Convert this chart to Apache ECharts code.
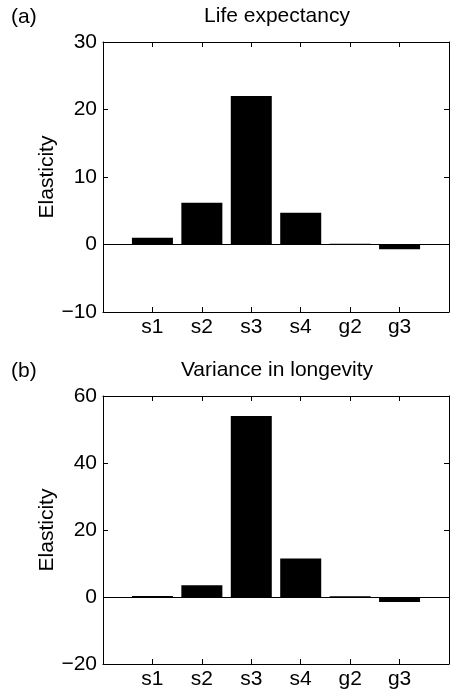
<!DOCTYPE html>
<html>
<head>
<meta charset="utf-8">
<script src="https://cdn.jsdelivr.net/npm/echarts@6/dist/echarts.min.js"></script>
<style>
  html, body { margin: 0; padding: 0; background: #fff; }
  #chart { width: 452px; height: 690px; }
</style>
</head>
<body>
<div id="chart"></div>
<script>
// 数据
var categories = ['s1', 's2', 's3', 's4', 'g2', 'g3'];
var lifeExpectancy = [1.0, 6.2, 22.0, 4.7, 0.1, -0.7];
var varianceLongevity = [0.3, 3.5, 54.0, 11.5, 0.2, -1.5];
var ticksA = { min: -10, max: 30, interval: 10 };
var ticksB = { min: -20, max: 60, interval: 20 };

var FONT = 'Liberation Sans, Arial, sans-serif';
var FS = 21;

// 两端留空的类目，使 s1..g3 落在 1..6
var xData = [''].concat(categories, ['']);
function pad(arr) { return [null].concat(arr, [null]); }

function minusFmt(v) {
    return v < 0 ? '\u2212' + Math.abs(v) : String(v);
}

var axisLine = { show: true, onZero: false, lineStyle: { color: '#000', width: 1 } };
var tickIn = { show: true, inside: true, length: 5, lineStyle: { color: '#000', width: 1 } };

function xAxes(gi) {
    return [
        {
            gridIndex: gi, type: 'category', data: xData, boundaryGap: false, position: 'bottom',
            axisLine: axisLine, axisTick: tickIn,
            axisLabel: { color: '#000', fontSize: FS, fontFamily: FONT, margin: 5, interval: 0 },
            splitLine: { show: false }
        },
        {
            gridIndex: gi, type: 'category', data: xData, boundaryGap: false, position: 'top',
            axisLine: axisLine, axisTick: tickIn, axisLabel: { show: false },
            splitLine: { show: false }
        }
    ];
}

function yAxes(gi, t) {
    return [
        {
            gridIndex: gi, type: 'value', min: t.min, max: t.max, interval: t.interval, position: 'left',
            name: 'Elasticity', nameLocation: 'middle', nameRotate: 90, nameGap: 45,
            nameMoveOverlap: false,
            nameTextStyle: { color: '#000', fontSize: FS, fontFamily: FONT },
            axisLine: axisLine, axisTick: tickIn,
            axisLabel: { color: '#000', fontSize: FS, fontFamily: FONT, margin: 6, formatter: minusFmt },
            splitLine: { show: false }
        },
        {
            gridIndex: gi, type: 'value', min: t.min, max: t.max, interval: t.interval, position: 'right',
            axisLine: axisLine, axisTick: tickIn, axisLabel: { show: false },
            splitLine: { show: false }
        }
    ];
}

function barSeries(idx, values) {
    return {
        type: 'bar',
        xAxisIndex: idx * 2,
        yAxisIndex: idx * 2,
        data: pad(values),
        barWidth: 41,
        itemStyle: { color: '#000' },
        silent: true,
        markLine: {
            silent: true,
            symbol: 'none',
            label: { show: false },
            lineStyle: { color: '#000', width: 1, type: 'solid' },
            data: [{ yAxis: 0 }]
        }
    };
}

var myChart = echarts.init(document.getElementById('chart'), null, { renderer: 'canvas' });

var titleStyle = { fontSize: FS, fontWeight: 'normal', color: '#000', fontFamily: FONT };

var option = {
    backgroundColor: '#fff',
    animation: false,
    textStyle: { fontFamily: FONT },
    title: [
        { text: '(a)', left: 11, top: 7, padding: 0, textStyle: titleStyle },
        { text: 'Life expectancy', left: 277, top: 6, textAlign: 'center', padding: 0, textStyle: titleStyle },
        { text: '(b)', left: 11, top: 361, padding: 0, textStyle: titleStyle },
        { text: 'Variance in longevity', left: 277, top: 360, textAlign: 'center', padding: 0, textStyle: titleStyle }
    ],
    grid: [
        { left: 103, right: 2, top: 42, height: 270 },
        { left: 103, right: 2, top: 396, height: 271 }
    ],
    xAxis: xAxes(0).concat(xAxes(1)),
    yAxis: yAxes(0, ticksA).concat(yAxes(1, ticksB)),
    series: [
        barSeries(0, lifeExpectancy),
        barSeries(1, varianceLongevity)
    ]
};

myChart.setOption(option);
</script>
</body>
</html>
